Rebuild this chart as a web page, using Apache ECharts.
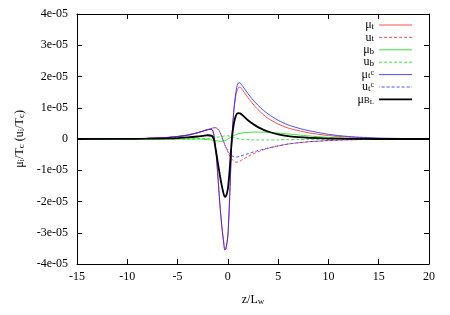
<!DOCTYPE html>
<html>
<head>
<meta charset="utf-8">
<script src="https://cdn.jsdelivr.net/npm/echarts@6/dist/echarts.min.js"></script>
<style>html,body{margin:0;padding:0;background:#fff}#c{width:450px;height:315px}</style>
</head>
<body>
<div id="c"></div>
<script>
// z/L_w positions (shared by every series)
const zVals = [-15,-12,-10,-8,-6,-5,-4,-3,-2.5,-2,-1.6,-1.4,-1.2,-1.0,-0.8,-0.6,-0.4,-0.3,-0.2,0,0.2,0.4,0.6,0.8,1.0,1.2,1.5,2,2.5,3,3.5,4,5,6,7,8,10,12,15,20];
// values in units of 1e-5
const UNIT = 1e-5;
const muT  = [0,0.005,0.01,0.02,0.05,0.08,0.12,0.2,0.25,0.3,0.31,0.15,-0.35,-1.15,-2.05,-2.8,-3.35,-3.55,-3.52,-3.1,-1.7,0.0,0.9,1.4,1.62,1.66,1.55,1.32,1.12,0.94,0.79,0.66,0.48,0.35,0.27,0.2,0.11,0.06,0.02,0.003];
const uT   = [0,0.005,0.01,0.02,0.05,0.08,0.13,0.2,0.25,0.3,0.34,0.36,0.36,0.32,0.22,0.07,-0.1,-0.18,-0.26,-0.42,-0.55,-0.65,-0.71,-0.74,-0.74,-0.71,-0.65,-0.56,-0.48,-0.41,-0.35,-0.3,-0.22,-0.16,-0.12,-0.09,-0.05,-0.025,-0.01,0];
const muB  = [0,0,0,0,0,0,0,0,-0.01,-0.02,-0.03,-0.04,-0.05,-0.06,-0.07,-0.08,-0.07,-0.06,-0.04,0.0,0.04,0.08,0.11,0.14,0.16,0.18,0.2,0.21,0.22,0.22,0.22,0.21,0.19,0.16,0.13,0.1,0.05,0.02,0.005,0];
const uB   = [0,0,0,0,0,0,0,0.01,0.015,0.02,0.03,0.04,0.05,0.06,0.07,0.08,0.09,0.1,0.1,0.1,0.09,0.07,0.05,0.03,0.01,0.0,-0.01,-0.02,-0.03,-0.03,-0.03,-0.03,-0.03,-0.02,-0.02,-0.01,-0.01,0,0,0];
const muTc = [0,0.005,0.01,0.02,0.05,0.08,0.12,0.2,0.25,0.3,0.31,0.15,-0.35,-1.15,-2.05,-2.8,-3.35,-3.55,-3.52,-3.1,-1.7,0.0,0.95,1.5,1.78,1.8,1.68,1.45,1.25,1.08,0.93,0.8,0.6,0.45,0.35,0.27,0.15,0.08,0.03,0.005];
const uTc  = [0,0.005,0.01,0.02,0.05,0.08,0.13,0.2,0.25,0.3,0.34,0.36,0.36,0.32,0.22,0.07,-0.1,-0.18,-0.25,-0.38,-0.47,-0.53,-0.57,-0.58,-0.57,-0.55,-0.52,-0.47,-0.42,-0.37,-0.33,-0.29,-0.22,-0.16,-0.12,-0.09,-0.05,-0.025,-0.01,0];
const muBL = [0,0.002,0.005,0.01,0.02,0.03,0.05,0.08,0.1,0.12,0.1,0.0,-0.35,-0.75,-1.15,-1.5,-1.78,-1.85,-1.84,-1.6,-0.9,0.0,0.5,0.75,0.83,0.82,0.75,0.6,0.48,0.38,0.3,0.24,0.15,0.09,0.06,0.04,0.015,0.005,0,0];

const xTicks = [-15,-10,-5,0,5,10,15,20];
const yTickLabels = ['-4e-05','-3e-05','-2e-05','-1e-05','0','1e-05','2e-05','3e-05','4e-05'];

const FONT = 'Liberation Serif';
const pairs = arr => zVals.map((z,i)=>[z, arr[i]*UNIT]);

const seriesDefs = [
  {name:'mut',  data:muT,  color:'#ff2020', type:'solid', width:0.8, off:0},
  {name:'ut',   data:uT,   color:'#ff2020', type:[3,2],  width:0.8, off:0},
  {name:'mub',  data:muB,  color:'#00dd00', type:'solid', width:0.8, off:0},
  {name:'ub',   data:uB,   color:'#00dd00', type:[3,2],  width:0.8, off:0},
  {name:'mutc', data:muTc, color:'#2020ff', type:'solid', width:0.8, off:0},
  {name:'utc',  data:uTc,  color:'#2020ff', type:[3,2],  width:0.8, off:2.5},
  {name:'mubl', data:muBL, color:'#000000', type:'solid', width:1.8, off:0}
];
const legendText = {
  mut:'{n|μ}{s|t}', ut:'{n|u}{s|t}', mub:'{n|μ}{s|b}', ub:'{n|u}{s|b}',
  mutc:'{n|μ}{s|t}{p|c}', utc:'{n|u}{s|t}{p|c}', mubl:'{n|μ}{s|B}{ss|L}'
};
const rich = {
  n:{fontFamily:FONT, fontSize:12, color:'#000', lineHeight:12},
  s:{fontFamily:FONT, fontSize:9, color:'#000', verticalAlign:'bottom', lineHeight:1},
  p:{fontFamily:FONT, fontSize:8, color:'#000', verticalAlign:'top', lineHeight:5},
  ss:{fontFamily:FONT, fontSize:7, color:'#000', verticalAlign:'bottom', lineHeight:0.5}
};

const chart = echarts.init(document.getElementById('c'), null, {renderer:'canvas'});
const tickCommon = {show:true, inside:true, length:5, lineStyle:{color:'#000', width:1}};
chart.setOption({
  animation:false,
  backgroundColor:'#fff',
  grid:{left:77, right:21, top:14, bottom:51},
  legend:{
    orient:'vertical', right:37, top:19, align:'right', padding:0,
    itemWidth:33, itemHeight:8, itemGap:0.4,
    itemStyle:{opacity:0},
    lineStyle:{width:'inherit'},
    data: seriesDefs.map(s=>s.name),
    formatter: n => legendText[n],
    textStyle:{fontFamily:FONT, fontSize:12, color:'#000', lineHeight:12, rich}
  },
  xAxis:[{
    type:'value', min:-15, max:20, interval:5,
    name:'{n|z/L}{s|w}', nameLocation:'middle', nameGap:30,
    nameTextStyle:{fontFamily:FONT, fontSize:12, color:'#000', rich},
    axisLine:{show:true, onZero:false, lineStyle:{color:'#000', width:1}},
    axisTick:tickCommon,
    splitLine:{show:false},
    axisLabel:{fontFamily:FONT, fontSize:12, color:'#000', margin:7,
      formatter:v=>String(xTicks.find(t=>Math.abs(t-v)<1e-9) ?? v)}
  },{
    type:'value', position:'top', min:-15, max:20, interval:5,
    axisLine:{show:true, onZero:false, lineStyle:{color:'#000', width:1}},
    axisTick:tickCommon, axisLabel:{show:false}, splitLine:{show:false}
  }],
  yAxis:[{
    type:'value', min:-4e-5, max:4e-5, interval:1e-5,
    name:'{n|μ}{s|i}{n|/T}{s|c}{n| (u}{s|i}{n|/T}{s|c}{n|)}', nameLocation:'middle', nameGap:44,
    nameTextStyle:{fontFamily:FONT, fontSize:12, color:'#000', rich},
    axisLine:{show:true, onZero:false, lineStyle:{color:'#000', width:1}},
    axisTick:tickCommon,
    splitLine:{show:false},
    axisLabel:{fontFamily:FONT, fontSize:12, color:'#000', margin:9,
      formatter:(v,i)=>yTickLabels[Math.round(v/1e-5)+4]}
  },{
    type:'value', position:'right', min:-4e-5, max:4e-5, interval:1e-5,
    axisLine:{show:true, onZero:false, lineStyle:{color:'#000', width:1}},
    axisTick:tickCommon, axisLabel:{show:false}, splitLine:{show:false}
  }],
  series: seriesDefs.map(s=>({
    name:s.name, type:'line', xAxisIndex:0, yAxisIndex:0,
    data:pairs(s.data), smooth:0.25, showSymbol:false, symbol:'none',
    color:s.color,
    lineStyle:{color:s.color, width:s.width, type:s.type, dashOffset:s.off},
    itemStyle:{color:s.color}
  }))
});
</script>
</body>
</html>
